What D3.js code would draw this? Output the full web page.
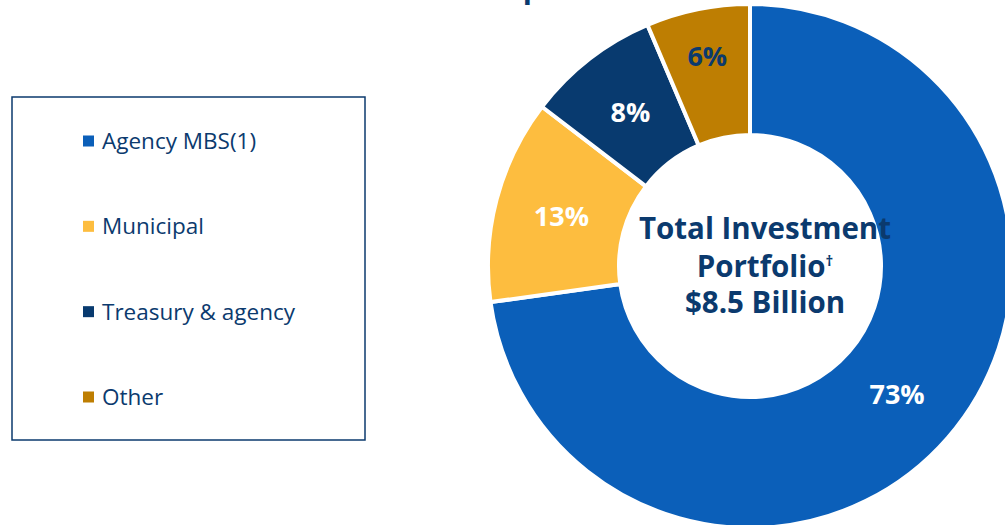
<!DOCTYPE html>
<html>
<head>
<meta charset="utf-8">
<script src="https://cdn.jsdelivr.net/npm/d3@7"></script>
<style>
  html, body { margin: 0; padding: 0; background: #fff; }
  svg { display: block; font-family: "Open Sans", "Noto Sans", sans-serif; }
</style>
</head>
<body>
<div id="main"></div>
<script>
// data
const categories = ["Agency MBS(1)", "Municipal", "Treasury & agency", "Other"];
const shares = [72.8, 12.6, 8.2, 6.4];
const colors = ["#0B5FB9", "#FDBD3F", "#083A6F", "#BE7E02"];
const labelColors = ["#fff", "#fff", "#fff", "#0B3A6E"];
const centerLines = ["Total Investment", "Portfolio", "$8.5 Billion"];
const titleText = "Investment portfolio";

const ctx = {
    w: 1005,
    h: 525,
    cx: 750,
    cy: 266,
    outer: 262,
    inner: 131,
    navy: "#0B3A6E"
};

function createViz() {
    let svgEl = d3.select("#main").append("svg")
        .attr("width", ctx.w)
        .attr("height", ctx.h);
    svgEl.append("rect")
        .attr("width", "100%")
        .attr("height", "100%")
        .attr("fill", "#fff");

    drawTitle(svgEl);
    drawDonut(svgEl);
    drawLegend(svgEl);
}

// title sits mostly above the frame, only the "p" tail shows
function drawTitle(svgEl) {
    let t = svgEl.append("text")
        .attr("y", -2)
        .attr("fill", ctx.navy)
        .style("font-size", "30px")
        .style("font-weight", 700);
    let probe = t.text("Investment ");
    let lead = probe.node().getComputedTextLength();
    t.text(titleText).attr("x", 515 - lead);
}

function drawDonut(svgEl) {
    let pie = d3.pie().sort(null).value(d => d);
    let arcs = pie(shares);
    let arc = d3.arc().innerRadius(ctx.inner).outerRadius(ctx.outer);

    let g = svgEl.append("g")
        .attr("transform", `translate(${ctx.cx},${ctx.cy})`);

    g.selectAll("path.slice")
        .data(arcs)
        .enter()
        .append("path")
        .attr("class", "slice")
        .attr("d", arc)
        .attr("fill", (d, i) => colors[i])
        .attr("stroke", "#fff")
        .attr("stroke-width", 4)
        .attr("stroke-linejoin", "miter");

    let fmt = d3.format(".0f");
    g.selectAll("text.pct")
        .data(arcs)
        .enter()
        .append("text")
        .attr("class", "pct")
        .attr("transform", (d, i) => {
            // the thin last slice has its label pushed outward
            let r = i == 3 ? 214 : 195;
            let la = d3.arc().innerRadius(r).outerRadius(r);
            let c = la.centroid(d);
            return `translate(${c[0]},${c[1]})`;
        })
        .attr("text-anchor", "middle")
        .attr("dy", "0.36em")
        .attr("fill", (d, i) => labelColors[i])
        .style("font-size", "27px")
        .style("font-weight", 700)
        .text(d => fmt(d.data) + "%");

    // centre caption
    let cap = g.append("text")
        .attr("text-anchor", "middle")
        .attr("fill", ctx.navy)
        .style("font-size", "29.5px")
        .style("font-weight", 700);
    let baseY = [-27, 11, 47];
    centerLines.forEach((line, i) => {
        cap.append("tspan")
            .attr("x", 15)
            .attr("y", baseY[i])
            .text(line);
        if (i == 1) {
            cap.append("tspan")
                .attr("dy", -11)
                .style("font-size", "15px")
                .text("\u2020");
        }
    });
}

function drawLegend(svgEl) {
    let lg = svgEl.append("g").attr("id", "legend");
    lg.append("rect")
        .attr("x", 12)
        .attr("y", 97)
        .attr("width", 353)
        .attr("height", 343)
        .attr("fill", "none")
        .attr("stroke", ctx.navy)
        .attr("stroke-width", 1.5);

    let yPos = d3.scalePoint()
        .domain(categories)
        .range([141, 397]);

    let item = lg.selectAll("g.item")
        .data(categories)
        .enter()
        .append("g")
        .attr("class", "item")
        .attr("transform", d => `translate(83,${yPos(d)})`);
    item.append("rect")
        .attr("x", 0)
        .attr("y", -5.5)
        .attr("width", 11)
        .attr("height", 11)
        .attr("fill", (d, i) => colors[i]);
    item.append("text")
        .attr("x", 19)
        .attr("dy", "0.36em")
        .attr("fill", ctx.navy)
        .style("font-size", "22.5px")
        .text(d => d);
}

createViz();
</script>
</body>
</html>
